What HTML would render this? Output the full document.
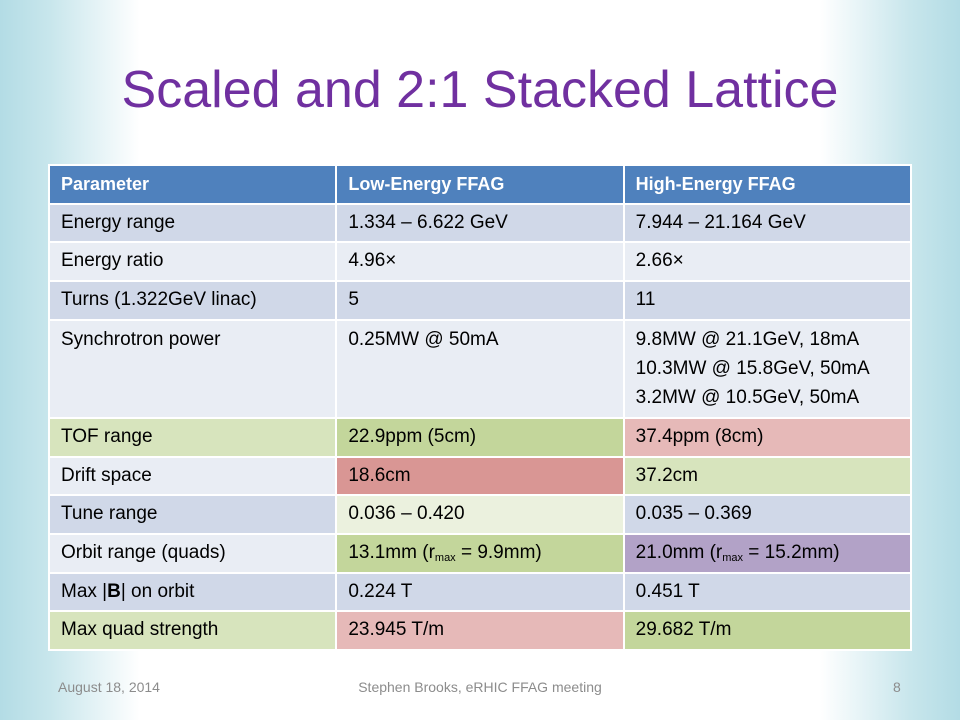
<!DOCTYPE html>
<html><head><meta charset="utf-8"><style>
body{margin:0;width:960px;height:720px;overflow:hidden;font-family:"Liberation Sans",sans-serif;
background:linear-gradient(90deg,#b3dce5 0px,#c8e6ec 50px,#fff 140px,#fff 820px,#c8e6ec 910px,#b3dce5 960px);position:relative}
h1{position:absolute;left:0;width:960px;top:60px;margin:0;text-align:center;font-weight:normal;color:#7030a0;font-size:52px;letter-spacing:0px}
table{position:absolute;left:48px;top:164px;width:864px;border-collapse:collapse;font-size:19px;color:#000;table-layout:fixed}
td,th{border:2px solid #fff;padding:0 11px;text-align:left;vertical-align:top;line-height:36.7px;height:36.7px;white-space:nowrap;overflow:hidden}
th{background:#4f81bd;color:#fff;font-weight:bold;font-size:18px}
.a{background:#d0d8e8}.b{background:#e9edf4}.g{background:#c3d69b}.lg{background:#d7e4bd}.cr{background:#ebf1de}
.r{background:#e6b9b8}.dr{background:#d99694}.p{background:#b2a2c7}
.syn td{line-height:29px;padding-top:4px;height:92px}
sub{font-size:11px;line-height:0;vertical-align:-3px}
.f{position:absolute;top:679px;font-size:14px;color:#8c8c8c}
</style></head><body>
<h1>Scaled and 2:1 Stacked Lattice</h1>
<table>
<tr><th>Parameter</th><th>Low-Energy FFAG</th><th>High-Energy FFAG</th></tr>
<tr><td class="a">Energy range</td><td class="a">1.334 – 6.622 GeV</td><td class="a">7.944 – 21.164 GeV</td></tr>
<tr><td class="b">Energy ratio</td><td class="b">4.96×</td><td class="b">2.66×</td></tr>
<tr><td class="a">Turns (1.322GeV linac)</td><td class="a">5</td><td class="a">11</td></tr>
<tr class="syn"><td class="b">Synchrotron power</td><td class="b">0.25MW @ 50mA</td><td class="b">9.8MW @ 21.1GeV, 18mA<br>10.3MW @ 15.8GeV, 50mA<br>3.2MW @ 10.5GeV, 50mA</td></tr>
<tr><td class="lg">TOF range</td><td class="g">22.9ppm (5cm)</td><td class="r">37.4ppm (8cm)</td></tr>
<tr><td class="b">Drift space</td><td class="dr">18.6cm</td><td class="lg">37.2cm</td></tr>
<tr><td class="a">Tune range</td><td class="cr">0.036 – 0.420</td><td class="a">0.035 – 0.369</td></tr>
<tr><td class="b">Orbit range (quads)</td><td class="g">13.1mm (r<sub>max</sub> = 9.9mm)</td><td class="p">21.0mm (r<sub>max</sub> = 15.2mm)</td></tr>
<tr><td class="a">Max |<b>B</b>| on orbit</td><td class="a">0.224 T</td><td class="a">0.451 T</td></tr>
<tr><td class="lg">Max quad strength</td><td class="r">23.945 T/m</td><td class="g">29.682 T/m</td></tr>
</table>
<div class="f" style="left:58px">August 18, 2014</div>
<div class="f" style="left:0;width:960px;text-align:center">Stephen Brooks, eRHIC FFAG meeting</div>
<div class="f" style="left:893px">8</div>
</body></html>
